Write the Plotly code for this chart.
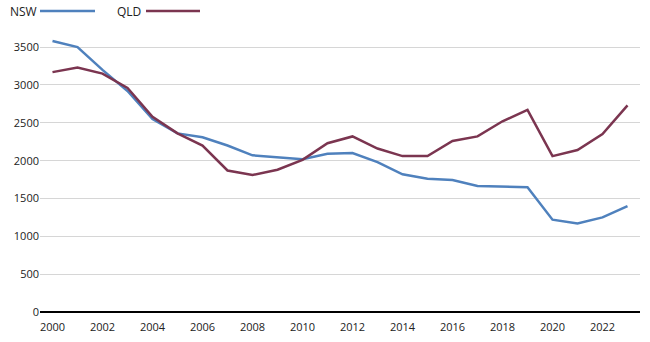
import plotly.graph_objects as go

years = list(range(2000, 2024))
nsw = [3580, 3500, 3200, 2920, 2550, 2360, 2310, 2200, 2070, 2040, 2020, 2090,
       2100, 1980, 1820, 1760, 1745, 1665, 1660, 1650, 1220, 1170, 1250, 1400]
qld = [3170, 3230, 3150, 2960, 2580, 2360, 2200, 1870, 1810, 1880, 2010, 2230,
       2320, 2160, 2060, 2060, 2260, 2320, 2520, 2670, 2060, 2140, 2350, 2730]
tick_years = list(range(2000, 2023, 2))
y_ticks = [0, 500, 1000, 1500, 2000, 2500, 3000, 3500]

NSW_C = "#4F81BD"
QLD_C = "#7B3550"

W, H = 650, 342
ML, MR, MT, MB = 40, 10, 32, 30

fig = go.Figure()
fig.add_trace(go.Scatter(x=years, y=nsw, mode="lines", name="NSW",
                         line=dict(color=NSW_C, width=2.5)))
fig.add_trace(go.Scatter(x=years, y=qld, mode="lines", name="QLD",
                         line=dict(color=QLD_C, width=2.5)))

fig.update_layout(
    width=W, height=H,
    margin=dict(l=ML, r=MR, t=MT, b=MB, autoexpand=False),
    paper_bgcolor="white", plot_bgcolor="white",
    showlegend=False,
    font=dict(family="Open Sans, Liberation Sans, sans-serif", size=11, color="#222"),
    xaxis=dict(range=[1999.5, 2023.5], tickvals=tick_years,
               ticktext=[str(y) for y in tick_years], showgrid=False,
               showline=False, zeroline=False, ticks="outside", ticklen=5,
               tickcolor="rgba(0,0,0,0)", automargin=False, fixedrange=True),
    yaxis=dict(range=[0, 3700], tickvals=y_ticks, showgrid=True,
               gridcolor="#d6d6d6", gridwidth=1, zeroline=True,
               zerolinecolor="#000", zerolinewidth=1.5, ticks="",
               ticksuffix=" ", automargin=False, fixedrange=True),
)

# legend drawn manually (label text before the line sample), paper coords = plot area
pw = W - ML - MR
ph = H - MT - MB
legend_items = [("NSW", NSW_C, 8, 40, 95), ("QLD", QLD_C, 115, 146, 200)]
for name, col, tx, lx0, lx1 in legend_items:
    ly = 11
    yf = (H - MB - ly) / ph
    fig.add_annotation(x=(tx - ML) / pw, y=yf, xref="paper", yref="paper",
                       xanchor="left", yanchor="middle", text=name, showarrow=False,
                       font=dict(size=12, color="#222"))
    fig.add_shape(type="line", xref="paper", yref="paper",
                  x0=(lx0 - ML) / pw, x1=(lx1 - ML) / pw, y0=yf, y1=yf,
                  line=dict(color=col, width=2.5))

fig.write_html("out.html")
